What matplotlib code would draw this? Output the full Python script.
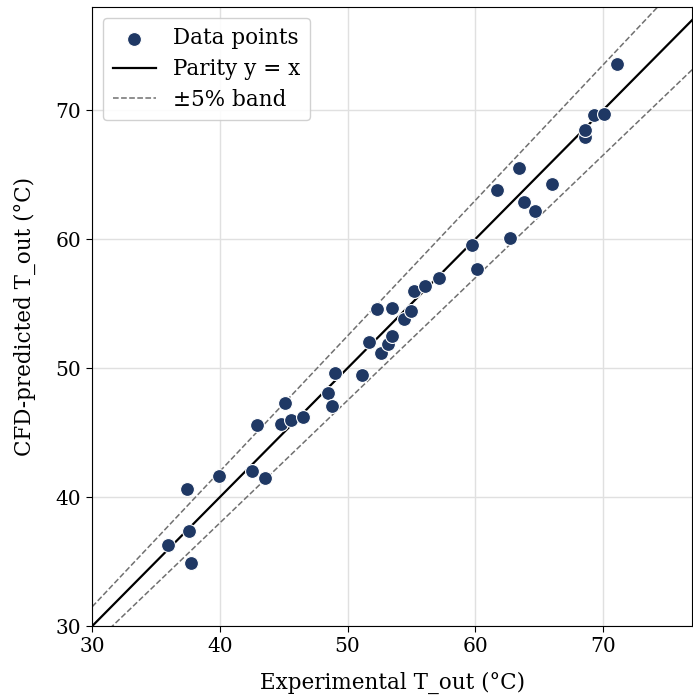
import numpy as np
import matplotlib
matplotlib.use("Agg")
import matplotlib.pyplot as plt

plt.rcParams["font.family"] = "DejaVu Serif"

# experimental vs CFD-predicted outlet temperature (°C)
t_exp = [35.9, 37.4, 37.6, 37.75, 39.9, 42.5, 42.9, 43.5, 44.8, 45.1,
         45.6, 46.5, 48.5, 48.75, 49.0, 51.15, 51.7, 52.3, 52.6, 53.2,
         53.5, 53.5, 54.4, 55.0, 55.2, 56.1, 57.2, 59.75, 60.1, 61.7,
         62.7, 63.4, 63.8, 64.7, 66.0, 68.6, 68.6, 69.3, 70.1, 71.1]
t_cfd = [36.25, 40.6, 37.4, 34.9, 41.6, 42.0, 45.6, 41.5, 45.7, 47.3,
         46.0, 46.2, 48.1, 47.1, 49.6, 49.5, 52.0, 54.6, 51.2, 51.9,
         52.5, 54.7, 53.8, 54.4, 56.0, 56.4, 56.95, 59.55, 57.7, 63.8,
         60.1, 65.5, 62.9, 62.2, 64.3, 67.9, 68.5, 69.6, 69.7, 73.6]

lo, hi = 30, 77
band = 0.05

fig, ax = plt.subplots(figsize=(6.93, 6.98), dpi=100)
fig.subplots_adjust(left=0.133, right=0.999, bottom=0.103, top=0.99)

ax.scatter(t_exp, t_cfd, s=100, color="#1f3864", edgecolors="white",
           linewidths=0.8, label="Data points", zorder=3)

xs = np.array([lo, hi])
ax.plot(xs, xs, color="black", lw=1.6, label="Parity y = x", zorder=2)
ax.plot(xs, xs * (1 + band), color="#707070", lw=1.1, ls="--",
        label="±5% band", zorder=2)
ax.plot(xs, xs * (1 - band), color="#707070", lw=1.1, ls="--", zorder=2)

ax.set_xlim(lo, hi)
ax.set_ylim(30, 78)
ax.set_xticks([30, 40, 50, 60, 70])
ax.set_yticks([30, 40, 50, 60, 70])
ax.grid(True, color="#e0e0e0", lw=1)
ax.set_axisbelow(True)
ax.tick_params(labelsize=14.5, length=4.5)

ax.set_xlabel("Experimental T_out (°C)", fontsize=15.5, labelpad=11)
ax.set_ylabel("CFD-predicted T_out (°C)", fontsize=15.5, labelpad=14)

ax.legend(loc="upper left", fontsize=15.5, framealpha=0.9,
          borderpad=0.45, labelspacing=0.4, handletextpad=0.8)

fig.savefig("out.png", dpi=100)
